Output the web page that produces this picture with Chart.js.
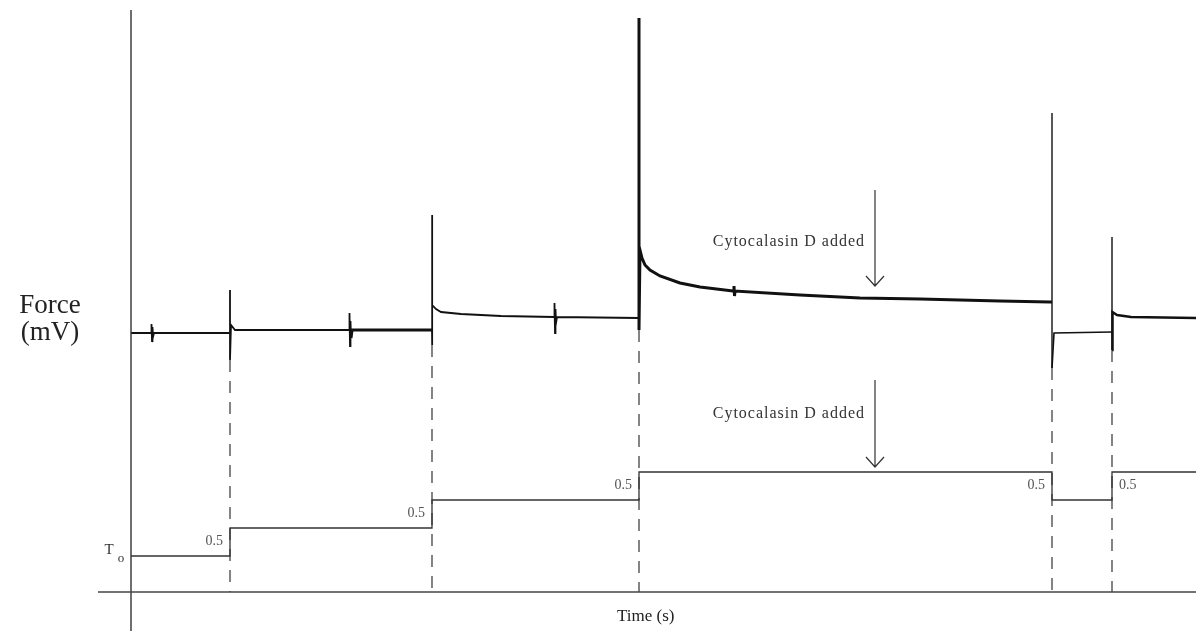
<!DOCTYPE html>
<html>
<head>
<meta charset="utf-8">
<script src="https://cdn.jsdelivr.net/npm/chart.js@4.4.0/dist/chart.umd.min.js"></script>
<style>
  html, body { margin: 0; padding: 0; background: #fff; }
  #wrap { width: 1196px; height: 631px; }
</style>
</head>
<body>
<div id="wrap"><canvas id="forceChart" width="1196" height="631"></canvas></div>
<script>
// time of each length step (s)
var stepTimes = [9.9, 30.1, 50.8, 92.1, 98.1];
var stepLabels = ['0.5', '0.5', '0.5', '0.5', '0.5'];

// muscle length trace (steps of 0.5 from Lo)
var lengthTimes  = [0, 9.9, 30.1, 50.8, 92.1, 98.1, 106.5];
var lengthValues = [0, 0.5, 1.0, 1.5, 1.0, 1.5, 1.5];

// force trace (mV above resting level)
var forceTimes = [
  0, 2.0, 2.05, 2.1, 2.15, 2.2, 2.3,
  9.9, 9.9, 9.9, 10.0, 10.4,
  21.8, 21.85, 21.9, 21.95, 22.0, 22.1,
  30.1, 30.1, 30.1, 30.15, 30.5, 31, 33, 37,
  42.3, 42.35, 42.4, 42.45, 42.5, 42.6,
  50.8, 50.8, 50.8, 50.9, 51.1, 51.4, 51.9, 52.9, 54.9, 56.9,
  60.2, 60.3, 60.35, 60.4, 66.9, 72.9, 78.9, 86.9, 91.9,
  92.1, 92.1, 92.1, 92.3,
  98.1, 98.1, 98.1, 98.15, 98.6, 100, 106.5
];
var forceValues = [
  0, 0, 0.09, -0.08, 0.06, -0.04, 0,
  0, 0.43, -0.27, 0.08, 0.03,
  0.03, 0.2, -0.13, 0.12, -0.05, 0.03,
  0.03, 1.18, -0.12, 0.28, 0.24, 0.21, 0.19, 0.17,
  0.16, 0.30, 0.0, 0.24, 0.1, 0.16,
  0.15, 3.15, 0.03, 0.83, 0.75, 0.68, 0.63, 0.57, 0.50, 0.46,
  0.42, 0.47, 0.37, 0.42, 0.38, 0.35, 0.34, 0.32, 0.31,
  0.31, 2.2, -0.35, 0.0,
  0.01, 0.96, -0.17, 0.21, 0.18, 0.16, 0.15
];

// dashed guides drop from the force trace to the time axis
var guideTops = [-0.27, -0.12, 0.03, -0.35, -0.17];
var timeAxisLevel = -2.59;

// drug marker
var drugTime = 74.4;
var drugLabel = 'Cytocalasin D added';

function zip(xs, ys) {
  return xs.map(function(x, i) { return {x: x, y: ys[i]}; });
}

function guidePoints() {
  var pts = [];
  stepTimes.forEach(function(t, i) {
    pts.push({x: t, y: guideTops[i]});
    pts.push({x: t, y: timeAxisLevel});
    pts.push({x: t, y: null});
  });
  return pts;
}

function arrowPoints(top, tip) {
  return [
    {x: drugTime, y: top}, {x: drugTime, y: tip}, {x: drugTime, y: null},
    {x: drugTime - 0.9, y: tip + 0.1}, {x: drugTime, y: tip}, {x: drugTime + 0.9, y: tip + 0.1}
  ];
}

// pen gets heavier on the long recordings
function traceWidth(c) {
  var t0 = c.p0.parsed.x, t1 = c.p1.parsed.x;
  if (t0 === t1) {
    if (t0 === stepTimes[2]) return 3;
    if (t0 === stepTimes[3] || t0 === stepTimes[4]) return 1.4;
    return 1.8;
  }
  if (t0 >= 22 && t1 <= 30.1) return 3;
  if (t0 >= 50.8 && t1 <= 92.1) return 3;
  if (t0 >= 98.1) return 2.5;
  if (t0 >= 92.1) return 1.6;
  return 1.8;
}

var serif = '"Liberation Serif", "Times New Roman", serif';

var labelPlugin = {
  id: 'traceLabels',
  afterDatasetsDraw: function(chart) {
    var ctx = chart.ctx;
    var x = chart.scales.x, f = chart.scales.force, l = chart.scales.len;
    ctx.save();
    ctx.fillStyle = '#222';
    ctx.textBaseline = 'alphabetic';
    ctx.textAlign = 'center';
    ctx.font = '27px ' + serif;
    var yx = x.getPixelForValue(0) - 81;
    ctx.fillText('Force', yx, f.getPixelForValue(0) - 20);
    ctx.fillText('(mV)', yx, f.getPixelForValue(0) + 7);

    // Lo marker at the start of the length trace
    ctx.textBaseline = 'middle';
    ctx.font = '15px ' + serif;
    ctx.fillStyle = '#333';
    ctx.fillText('T', x.getPixelForValue(0) - 22, l.getPixelForValue(0) - 6);
    ctx.font = '13px ' + serif;
    ctx.fillText('o', x.getPixelForValue(0) - 10, l.getPixelForValue(0) + 3);

    // step sizes
    ctx.font = '14px ' + serif;
    ctx.fillStyle = '#555';
    stepTimes.forEach(function(t, i) {
      var before = lengthValues[i], after = lengthValues[i + 1];
      var py = (l.getPixelForValue(before) + l.getPixelForValue(after)) / 2 - 1;
      var px = x.getPixelForValue(t);
      if (i === stepTimes.length - 1) {
        ctx.textAlign = 'left';
        ctx.fillText(stepLabels[i], px + 7, py);
      } else {
        ctx.textAlign = 'right';
        ctx.fillText(stepLabels[i], px - 7, py);
      }
    });

    // drug annotations
    ctx.font = '16px ' + serif;
    ctx.fillStyle = '#333';
    ctx.textAlign = 'right';
    if ('letterSpacing' in ctx) ctx.letterSpacing = '1px';
    var ax = x.getPixelForValue(drugTime) - 10;
    ctx.fillText(drugLabel, ax, f.getPixelForValue(0.91));
    ctx.fillText(drugLabel, ax, f.getPixelForValue(-0.81));
    if ('letterSpacing' in ctx) ctx.letterSpacing = '0px';

    ctx.font = '17px ' + serif;
    ctx.fillStyle = '#222';
    ctx.textAlign = 'left';
    ctx.fillText('Time (s)', x.getPixelForValue(48.6), f.getPixelForValue(timeAxisLevel) + 25);
    ctx.restore();
  }
};

var ctx = document.getElementById('forceChart').getContext('2d');
var forceChart = new Chart(ctx, {
  type: 'scatter',
  data: {
    datasets: [
      {
        label: 'Time axis',
        data: [{x: -3.3, y: timeAxisLevel}, {x: 106.5, y: timeAxisLevel}],
        yAxisID: 'force', showLine: true, borderColor: '#444', borderWidth: 1.4, pointRadius: 0
      },
      {
        label: 'Force axis',
        data: [{x: 0, y: 3.23}, {x: 0, y: -2.98}],
        yAxisID: 'force', showLine: true, borderColor: '#333', borderWidth: 1.4, pointRadius: 0
      },
      {
        label: 'Step guides',
        data: guidePoints(),
        yAxisID: 'force', showLine: true, spanGaps: false, borderColor: '#333', borderWidth: 1.2,
        borderDash: [12, 9], pointRadius: 0
      },
      {
        label: 'Length',
        data: zip(lengthTimes, lengthValues),
        yAxisID: 'len', showLine: true, stepped: 'before', borderColor: '#333', borderWidth: 1.3, pointRadius: 0
      },
      {
        label: 'Force',
        data: zip(forceTimes, forceValues),
        yAxisID: 'force', showLine: true, borderColor: '#111', borderWidth: 2, pointRadius: 0,
        borderJoinStyle: 'miter',
        segment: { borderWidth: traceWidth }
      },
      {
        label: 'Drug arrows',
        data: arrowPoints(1.43, 0.47).concat([{x: drugTime, y: null}]).concat(arrowPoints(-0.47, -1.34)),
        yAxisID: 'force', showLine: true, spanGaps: false, borderColor: '#333', borderWidth: 1.2, pointRadius: 0
      }
    ]
  },
  options: {
    responsive: false,
    animation: false,
    layout: { padding: 0 },
    plugins: {
      legend: { display: false },
      tooltip: { enabled: false }
    },
    scales: {
      x: { type: 'linear', display: false, min: -13.1, max: 106.5 },
      force: { type: 'linear', display: false, min: -2.98, max: 3.33 },
      len: { type: 'linear', display: false, min: -1.339, max: 9.929 }
    }
  },
  plugins: [labelPlugin]
});
</script>
</body>
</html>
